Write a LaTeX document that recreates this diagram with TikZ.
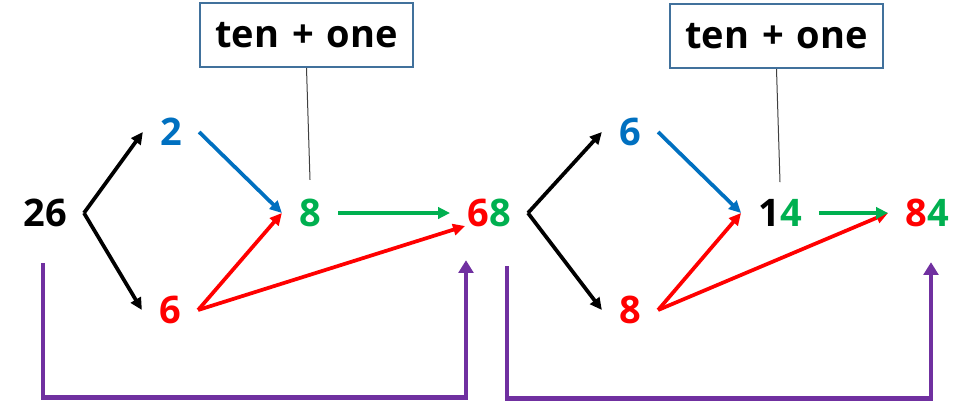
\documentclass[tikz,border=0pt]{standalone}
\usepackage{fontspec}
\setmainfont{Open Sans}
\usetikzlibrary{arrows.meta,calc}
\definecolor{cblue}{HTML}{0070C0}
\definecolor{cred}{HTML}{FF0000}
\definecolor{cgreen}{HTML}{00B050}
\definecolor{cpurple}{HTML}{7030A0}
\definecolor{cbox}{HTML}{41719C}
\definecolor{cthin}{HTML}{404040}
\begin{document}
\begin{tikzpicture}[x=0.75pt,y=-0.75pt,
  num/.style={inner xsep=12.75pt,inner ysep=0pt,font=\fontsize{28.5pt}{30pt}\selectfont\bfseries},
  tagbox/.style={draw=cbox,line width=1.5pt,minimum width=159.75pt,minimum height=48pt,inner sep=0pt,font=\fontsize{28.5pt}{30pt}\selectfont\bfseries},
  arr/.style={line width=2.8pt,-{Triangle[length=9pt,width=8.5pt]}},
  blk/.style={arr,black},
  bluearr/.style={arr,cblue},
  redarr/.style={arr,cred},
  greenarr/.style={arr,cgreen},
  thinline/.style={cthin,line width=0.75pt},
  purarr/.style={cpurple,line width=3.6pt,-{Triangle[length=9.5pt,width=11pt]}}
]
\useasboundingbox (0,0) rectangle (972,401);
% left part
\node[num] (n26) at (45,213) {26};
\node[num,text=cblue] (nA2) at (171,132) {2};
\node[num,text=cred] (nA6) at (170,310) {6};
\node[num,text=cgreen] (nA8) at (310,213) {8};
\node[num] (n68) at (489,213) {\textcolor{cred}{6}\textcolor{cgreen}{8}};
\node[tagbox] (boxA) at (306.5,35) {ten\hspace{0.08em} + \hspace{0.08em}one};
% right part
\node[num,text=cblue] (nB6) at (630,132) {6};
\node[num,text=cred] (nB8) at (630,310) {8};
\node[num] (n14) at (780,213) {\textcolor{black}{1}\textcolor{cgreen}{4}};
\node[num] (n84) at (927,213) {\textcolor{cred}{8}\textcolor{cgreen}{4}};
\node[tagbox] (boxB) at (776.5,36) {ten\hspace{0.08em} + \hspace{0.08em}one};
% left connectors
\draw[blk] (n26.east) -- (nA2.west);
\draw[blk] (n26.east) -- (nA6.west);
\draw[bluearr] (nA2.east) -- (nA8.west);
\draw[redarr] (nA6.east) -- (nA8.west);
\draw[redarr] (nA6.east) -- ($(n68.west)+(15,13)$);
\draw[greenarr] (nA8.east) -- (n68.west);
\draw[thinline] (boxA.south) -- ($(nA8.north)+(0,-19)$);
\draw[purarr] ($(n26.south)+(-2,36)$) -- ++(0,134) -| ($(n68.south)+(-23,33)$);
% right connectors
\draw[blk] (n68.east) -- (nB6.west);
\draw[blk] (n68.east) -- (nB8.west);
\draw[bluearr] (nB6.east) -- (n14.west);
\draw[redarr] (nB8.east) -- (n14.west);
\draw[redarr] (nB8.east) -- (n84.west);
\draw[greenarr] (n14.east) -- (n84.west);
\draw[thinline] (boxB.south) -- ($(n14.north)+(0,-17)$);
\draw[purarr] ($(n68.south)+(18,39)$) -- ++(0,132) -| ($(n84.south)+(4,35)$);
\end{tikzpicture}
\end{document}
